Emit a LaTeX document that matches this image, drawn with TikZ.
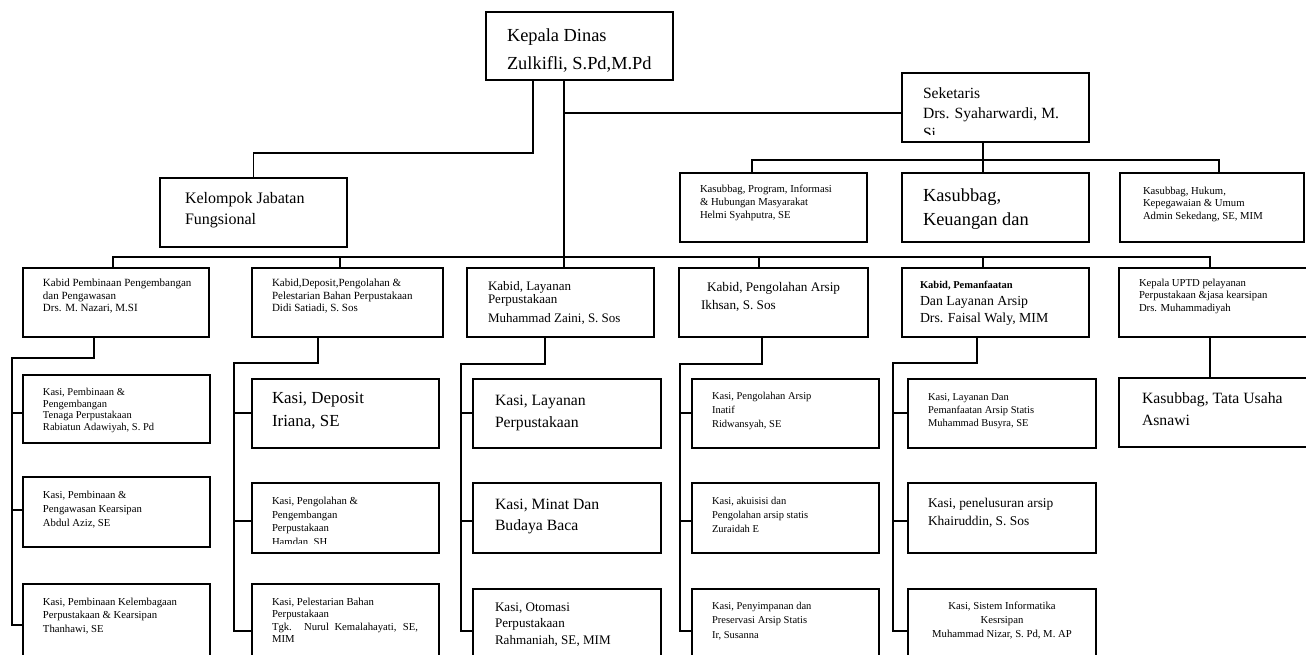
\documentclass[tikz,border=0pt]{standalone}
\usepackage{fontspec}
\setmainfont{Liberation Serif}
\newcommand{\fsz}[2]{\fontsize{#1}{#2}\selectfont\strut}
\newcommand{\orgtext}[5]{\begin{minipage}[t][#2pt][t]{#1pt}\raggedright\leftskip=#3pt\relax\vspace*{#4pt}#5\end{minipage}}
\tikzset{
  unit/.style={draw, line width=1.8pt, inner sep=0pt, outer sep=0pt, anchor=north west},
  plain/.style={inner sep=0pt, outer sep=0pt, anchor=north west},
  link/.style={line width=1.8pt}
}
\begin{document}
\begin{tikzpicture}[x=1pt, y=-1pt]
  \useasboundingbox (0,0) rectangle (1306,654);
  \clip (0,0) rectangle (1306,654);
  % pimpinan
  \node[unit] (kadis) at (486,12) {\orgtext{187}{68}{21}{9.4}{\fsz{18.4}{28}Kepala Dinas\\Zulkifli, S.Pd,M.Pd}};
  \node[unit] (kel) at (160,178) {\orgtext{187}{69}{25}{10.3}{\fsz{16}{21}Kelompok Jabatan\\Fungsional}};
  \node[unit, minimum width=187pt, minimum height=69pt] (sek) at (902,73) {};
  \begin{scope}
    \clip (sek.north west) rectangle ([yshift=8pt]sek.south east);
    \node[plain] (sektext) at (sek.north west) {\orgtext{187}{69}{21}{11}{\fsz{15.6}{20}Seketaris\\Drs. Syaharwardi, M.\\Si}};
  \end{scope}
  % kasubbag sekretariat
  \node[unit] (kbprog) at (680,173) {\orgtext{187}{69}{20}{10.3}{\fsz{10.7}{13}Kasubbag, Program, Informasi\\\& Hubungan Masyarakat\\Helmi Syahputra, SE}};
  \node[unit] (kbuang) at (902,173) {\orgtext{187}{69}{21}{11.2}{\fsz{18.4}{24}Kasubbag,\\Keuangan dan}};
  \node[unit] (kbhukum) at (1120,173) {\orgtext{184}{69}{23}{12.6}{\fsz{10.7}{12.5}Kasubbag, Hukum,\\Kepegawaian \& Umum\\Admin Sekedang, SE, MIM}};
  % kabid
  \node[unit] (kbina) at (23,268) {\orgtext{186}{69}{20}{9.9}{\fsz{11}{12.5}Kabid Pembinaan Pengembangan\\dan Pengawasan\\Drs. M. Nazari, M.SI}};
  \node[unit] (kdepo) at (252,268) {\orgtext{191}{69}{20}{9.9}{\fsz{11}{12.5}Kabid,Deposit,Pengolahan \&\\Pelestarian Bahan Perpustakaan\\Didi Satiadi, S. Sos}};
  \node[unit] (klay) at (467,268) {\orgtext{187}{69}{21}{12.9}{\fsz{13}{13}Kabid, Layanan\\Perpustakaan\\[6pt]Muhammad Zaini, S. Sos}};
  \node[unit] (kolah) at (679,268) {\orgtext{189}{69}{22}{10.4}{\fsz{13.2}{18}\hspace*{6pt}Kabid, Pengolahan Arsip\\Ikhsan, S. Sos}};
  \node[unit] (kmanf) at (902,268) {\orgtext{187}{69}{18}{11.6}{\fsz{10.5}{12}\textbf{Kabid, Pemanfaatan}\par\fsz{13.8}{17}Dan Layanan Arsip\\Drs. Faisal Waly, MIM}};
  \node[unit] (kuptd) at (1119,268) {\orgtext{200}{69}{20}{9.7}{\fsz{10.7}{12.5}Kepala UPTD pelayanan\\Perpustakaan \&jasa kearsipan\\Drs. Muhammadiyah}};
  % kasi
  \node[unit] (kstenaga) at (23,375) {\orgtext{187}{68}{20}{12.2}{\fsz{10.5}{11.7}Kasi, Pembinaan \&\\Pengembangan\\Tenaga Perpustakaan\\Rabiatun Adawiyah, S. Pd}};
  \node[unit] (ksawas) at (23,477) {\orgtext{187}{70}{20}{11.6}{\fsz{10.7}{14}Kasi, Pembinaan \&\\Pengawasan Kearsipan\\Abdul Aziz, SE}};
  \node[unit] (kslembaga) at (23,584) {\orgtext{187}{80}{20}{12}{\fsz{10.7}{13.5}Kasi, Pembinaan Kelembagaan\\Perpustakaan \& Kearsipan\\Thanhawi, SE}};
  \node[unit] (ksdepo) at (252,379) {\orgtext{187}{69}{20}{8.3}{\fsz{16.9}{23}Kasi, Deposit\\Iriana, SE}};
  \node[unit, minimum width=187pt, minimum height=70pt] (ksolah) at (252,483) {};
  \begin{scope}
    \clip (ksolah.north west) rectangle ([yshift=10pt]ksolah.south east);
    \node[plain] (ksolahtext) at (ksolah.north west) {\orgtext{187}{70}{20}{11.7}{\fsz{10.7}{13.8}Kasi, Pengolahan \&\\Pengembangan\\Perpustakaan\\Hamdan, SH}};
  \end{scope}
  \node[unit] (kslestari) at (252,584) {\orgtext{187}{80}{20}{12.8}{\fsz{10.7}{12.3}Kasi, Pelestarian Bahan\\Perpustakaan\\\makebox[146pt][s]{Tgk. Nurul Kemalahayati, SE,}\\MIM}};
  \node[unit] (kslayan) at (473,379) {\orgtext{188}{69}{22}{10.6}{\fsz{15.7}{22}Kasi, Layanan\\Perpustakaan}};
  \node[unit] (ksminat) at (473,483) {\orgtext{188}{70}{22}{11.3}{\fsz{15.7}{21}Kasi, Minat Dan\\Budaya Baca}};
  \node[unit] (ksotomasi) at (473,589) {\orgtext{188}{80}{22}{10.6}{\fsz{13.1}{16.5}Kasi, Otomasi\\Perpustakaan\\Rahmaniah, SE, MIM}};
  \node[unit] (ksinatif) at (692,379) {\orgtext{187}{69}{20}{10.6}{\fsz{10.5}{14}Kasi, Pengolahan Arsip\\Inatif\\Ridwansyah, SE}};
  \node[unit] (ksakuisisi) at (692,483) {\orgtext{187}{70}{20}{11.6}{\fsz{10.5}{14}Kasi, akuisisi dan\\Pengolahan arsip statis\\Zuraidah E}};
  \node[unit] (kssimpan) at (692,589) {\orgtext{187}{80}{20}{10.3}{\fsz{10.5}{14.5}Kasi, Penyimpanan dan\\Preservasi Arsip Statis\\Ir, Susanna}};
  \node[unit] (kslaystatis) at (908,379) {\orgtext{188}{69}{20}{12.3}{\fsz{10.5}{13}Kasi, Layanan Dan\\Pemanfaatan Arsip Statis\\Muhammad Busyra, SE}};
  \node[unit] (kstelusur) at (908,483) {\orgtext{188}{70}{20}{11.7}{\fsz{13.4}{18}Kasi, penelusuran arsip\\Khairuddin, S. Sos}};
  \node[unit] (kssistem) at (908,589) {\orgtext{188}{80}{0}{10.6}{\centering\fsz{10.7}{14}Kasi, Sistem Informatika\\Kesrsipan\\Muhammad Nizar, S. Pd, M. AP}};
  \node[unit] (kbtu) at (1119,378) {\orgtext{200}{69}{23}{9.6}{\fsz{15.7}{22}Kasubbag, Tata Usaha\\Asnawi}};
  \begin{scope}[link]
    \draw ([xshift=47pt]kadis.south west) -- ++(0,73) -| (kel.north);
    \draw ([xshift=78pt]kadis.south west) -- (564,257);
    \draw (564,113) -- (sek.west |- 0,113);
    \draw (sek.south -| 983,0) -- (983,160);
    \draw (kbprog.north -| 752,0) |- (1219,160) -- (kbhukum.north -| 1219,0);
    \draw (983,160) -- (kbuang.north -| 983,0);
    \draw (kbina.north -| 113,0) |- (1210,257) -- (kuptd.north -| 1210,0);
    \draw (340,257) -- (kdepo.north -| 340,0);
    \draw (564,257) -- (klay.north -| 564,0);
    \draw (759,257) -- (kolah.north -| 759,0);
    \draw (983,257) -- (kmanf.north -| 983,0);
    \draw (kbina.south -| 94,0) -- (94,358) -- (12,358) -- (12,625) -- (kslembaga.west |- 0,625);
    \draw (12,413) -- (kstenaga.west |- 0,413);
    \draw (12,510) -- (ksawas.west |- 0,510);
    \draw (kdepo.south -| 318,0) -- (318,363) -- (234,363) -- (234,631) -- (kslestari.west |- 0,631);
    \draw (234,413) -- (ksdepo.west |- 0,413);
    \draw (234,521) -- (ksolah.west |- 0,521);
    \draw (klay.south -| 545,0) -- (545,364) -- (461,364) -- (461,631) -- (ksotomasi.west |- 0,631);
    \draw (461,413) -- (kslayan.west |- 0,413);
    \draw (461,521) -- (ksminat.west |- 0,521);
    \draw (kolah.south -| 762,0) -- (762,364) -- (680,364) -- (680,631) -- (kssimpan.west |- 0,631);
    \draw (680,413) -- (ksinatif.west |- 0,413);
    \draw (680,521) -- (ksakuisisi.west |- 0,521);
    \draw (kmanf.south -| 977,0) -- (977,363) -- (893,363) -- (893,631) -- (kssistem.west |- 0,631);
    \draw (893,413) -- (kslaystatis.west |- 0,413);
    \draw (893,521) -- (kstelusur.west |- 0,521);
    \draw (kuptd.south -| 1210,0) -- (kbtu.north -| 1210,0);
  \end{scope}
\end{tikzpicture}
\end{document}
